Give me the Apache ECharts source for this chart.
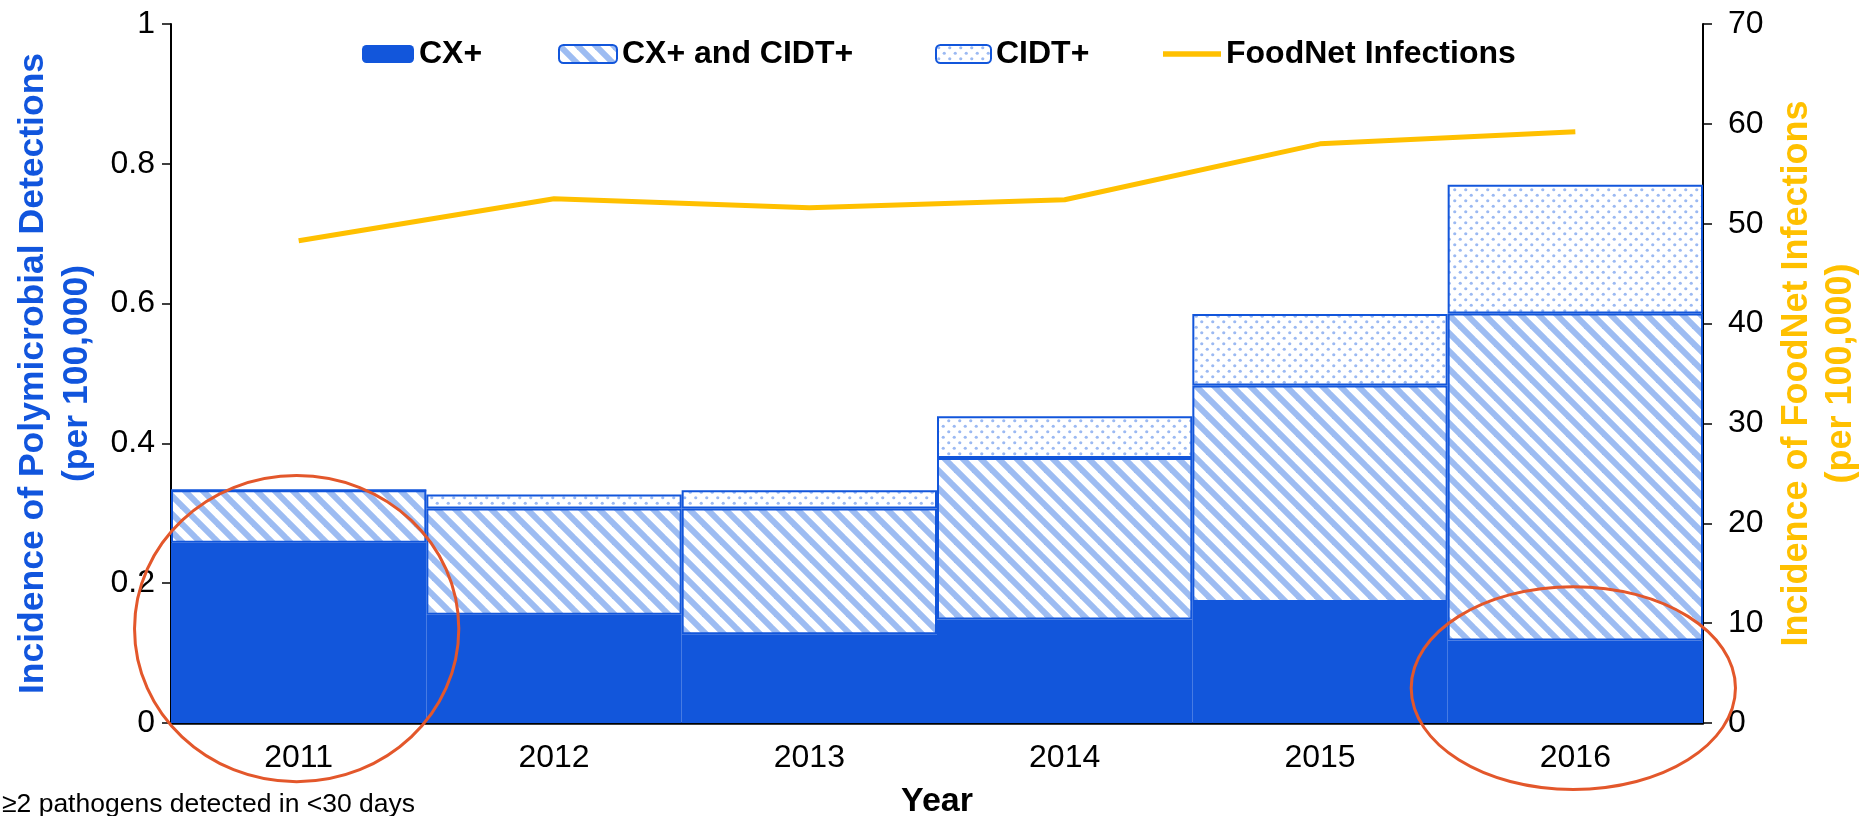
<!DOCTYPE html>
<html><head><meta charset="utf-8">
<script src="https://cdn.jsdelivr.net/npm/echarts@6/dist/echarts.min.js"></script>
<style>html,body{margin:0;padding:0;background:#fff}#c{width:1865px;height:816px}</style>
</head><body><div id="c"></div>
<script>
// ---- data ----
const years = ['2011', '2012', '2013', '2014', '2015', '2016'];
const cxOnly = [0.258, 0.155, 0.127, 0.148, 0.173, 0.118];
const cxAndCidt = [0.075, 0.152, 0.180, 0.231, 0.310, 0.468];
const cidtOnly = [0.000, 0.020, 0.026, 0.060, 0.102, 0.184];
const foodnet = [48.3, 52.5, 51.6, 52.4, 58.0, 59.2];
const seriesNames = ['CX+', 'CX+ and CIDT+', 'CIDT+', 'FoodNet Infections'];
const circledYears = ['2011', '2016'];
const circledCenters = [0.135, 0.05];

const FONT = '"Liberation Sans", Arial, sans-serif';
const BLUE = '#1256DB';
const GOLD = '#FFC000';

function hatchCanvas() {
  const s = 18, c = document.createElement('canvas');
  c.width = s; c.height = s;
  const g = c.getContext('2d');
  g.fillStyle = '#fff'; g.fillRect(0, 0, s, s);
  g.strokeStyle = '#9DBCF2'; g.lineWidth = 6;
  for (const k of [-s, 0, s]) {
    g.beginPath(); g.moveTo(-6, -6 + k); g.lineTo(s + 6, s + 6 + k); g.stroke();
  }
  return c;
}
function dotCanvas() {
  const s = 11, c = document.createElement('canvas');
  c.width = s; c.height = s;
  const g = c.getContext('2d');
  g.fillStyle = '#fff'; g.fillRect(0, 0, s, s);
  g.fillStyle = '#9BB9F2';
  for (const p of [[2.75, 2.75], [8.25, 8.25]]) {
    g.beginPath(); g.arc(p[0], p[1], 1.6, 0, Math.PI * 2); g.fill();
  }
  return c;
}

const chart = echarts.init(document.getElementById('c'));
const tickLabel = { fontFamily: FONT, fontSize: 32, color: '#000' };
const legendText = { fontFamily: FONT, fontSize: 32, fontWeight: 'bold', color: '#000' };
const legendLefts = [357, 553, 930, 1158];
const legendWidths = [52, 58, 55, 58];
const legends = seriesNames.map(function (n, i) {
  const item = { name: n };
  if (i === 3) item.icon = 'path://M0,0L58,0L58,5.5L0,5.5Z';
  return {
    top: 33, left: legendLefts[i], itemWidth: legendWidths[i], itemHeight: 18,
    textStyle: legendText, data: [item]
  };
});

const option = {
  animation: false,
  grid: { left: 171, right: 162, top: 24, bottom: 93, containLabel: false, outerBoundsMode: 'none' },
  legend: legends,
  xAxis: {
    type: 'category', data: years,
    axisLine: { lineStyle: { color: '#000', width: 2.5 } },
    axisTick: { length: 10, lineStyle: { color: '#000', width: 1.5 } },
    axisLabel: Object.assign({ margin: 19 }, tickLabel),
    name: 'Year', nameLocation: 'middle', nameGap: 62,
    nameTextStyle: { fontFamily: FONT, fontSize: 34, fontWeight: 'bold', color: '#000' }
  },
  yAxis: [{
    type: 'value', min: 0, max: 1, interval: 0.2,
    axisLine: { show: true, lineStyle: { color: '#000', width: 2 } },
    axisTick: { show: true, length: 9, lineStyle: { color: '#000', width: 1.5 } },
    splitLine: { show: false },
    axisLabel: Object.assign({ margin: 16 }, tickLabel),
    name: 'Incidence of Polymicrobial Detections\n(per 100,000)',
    nameLocation: 'middle', nameRotate: 90, nameGap: 43,
    nameTextStyle: { fontFamily: FONT, fontSize: 35.5, fontWeight: 'bold', color: '#1155DD', lineHeight: 44 }
  }, {
    type: 'value', min: 0, max: 70, interval: 10, position: 'right',
    axisLine: { show: true, lineStyle: { color: '#000', width: 2 } },
    axisTick: { show: true, length: 9, lineStyle: { color: '#000', width: 1.5 } },
    splitLine: { show: false },
    axisLabel: Object.assign({ margin: 25 }, tickLabel),
    name: 'Incidence of FoodNet Infections\n(per 100,000)',
    nameLocation: 'middle', nameRotate: 90, nameGap: 72,
    nameTextStyle: { fontFamily: FONT, fontSize: 36, fontWeight: 'bold', color: GOLD, lineHeight: 44 }
  }],
  series: [{
    name: seriesNames[0], type: 'bar', stack: 'a', data: cxOnly, barCategoryGap: '0%',
    itemStyle: { color: BLUE }
  }, {
    name: seriesNames[1], type: 'bar', stack: 'a', data: cxAndCidt,
    itemStyle: { color: { image: hatchCanvas(), repeat: 'repeat' }, borderColor: BLUE, borderWidth: 2 }
  }, {
    name: seriesNames[2], type: 'bar', stack: 'a', data: cidtOnly,
    itemStyle: { color: { image: dotCanvas(), repeat: 'repeat' }, borderColor: BLUE, borderWidth: 2 }
  }, {
    name: seriesNames[3], type: 'line', yAxisIndex: 1, data: foodnet,
    symbol: 'none', showSymbol: false, z: 5,
    lineStyle: { color: GOLD, width: 5 }, itemStyle: { color: GOLD }
  }],
  graphic: [{
    type: 'text', left: 2, top: 791,
    style: { text: '≥2 pathogens detected in <30 days', font: '26.5px ' + FONT, fill: '#000' }
  }]
};
chart.setOption(option);

// annotation ellipses anchored to data coordinates
const p0 = chart.convertToPixel({ xAxisIndex: 0, yAxisIndex: 0 }, [years[0], 0]);
const p1 = chart.convertToPixel({ xAxisIndex: 0, yAxisIndex: 0 }, [years[1], 0.1]);
const band = p1[0] - p0[0];
const unitY = p0[1] - p1[1]; // pixels per 0.1
const ellipses = circledYears.map(function (yr, i) {
  const c = chart.convertToPixel({ xAxisIndex: 0, yAxisIndex: 0 }, [yr, circledCenters[i]]);
  const ry = i === 0 ? unitY * 2.19 : unitY * 1.45;
  return {
    type: 'ellipse', z: 100,
    shape: { cx: c[0] - 2, cy: c[1], rx: band * 0.635, ry: ry },
    style: { fill: 'none', stroke: '#E3572B', lineWidth: 3 }
  };
});
chart.setOption({ graphic: option.graphic.concat(ellipses) });
</script>
</body></html>
